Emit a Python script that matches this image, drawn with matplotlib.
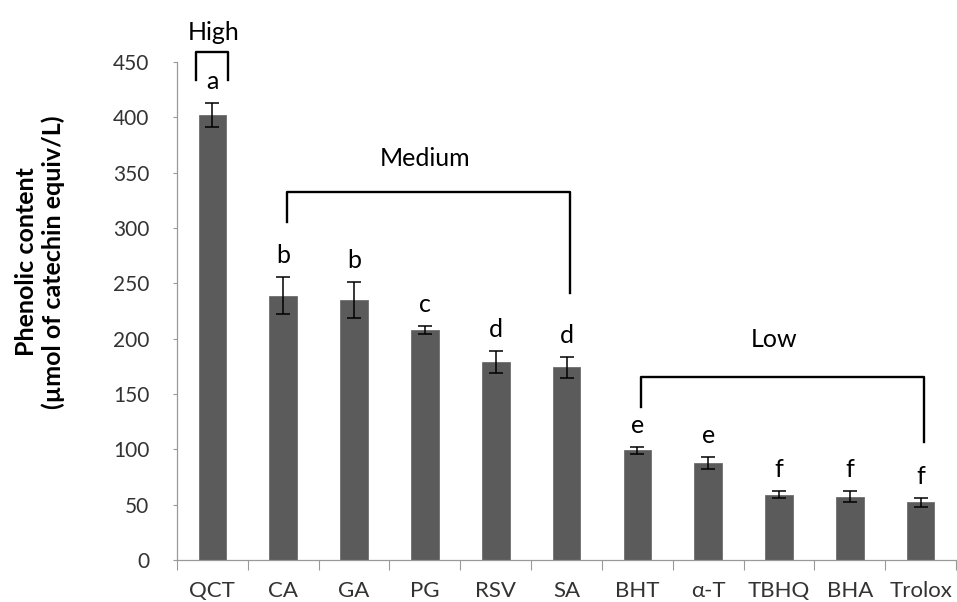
import matplotlib
matplotlib.use("Agg")
import matplotlib.pyplot as plt
import numpy as np

categories = ["QCT", "CA", "GA", "PG", "RSV", "SA", "BHT", "α-T", "TBHQ", "BHA", "Trolox"]
values = [402, 239, 235, 208, 179, 174, 99, 87.5, 59, 57, 52]
errors = [11, 16.5, 16.5, 3.5, 10, 9.5, 3, 5.5, 3, 5, 4]
letters = ["a", "b", "b", "c", "d", "d", "e", "e", "f", "f", "f"]
yticks = [0, 50, 100, 150, 200, 250, 300, 350, 400, 450]

plt.rcParams['font.family'] = ['Lato', 'DejaVu Sans']

fig = plt.figure(figsize=(9.57, 6.02), dpi=100)
ax = fig.add_axes([177/957, 1-560/602, 1-177/957 - 0.001, (560-62)/602])

x = np.arange(len(categories))
ax.bar(x, values, width=0.39, color='#5b5b5b', edgecolor='#6e6e6e', linewidth=0.6, zorder=2)
ax.errorbar(x, values, yerr=errors, fmt='none', ecolor='black', elinewidth=1.1,
            capsize=5, capthick=1.1, zorder=3)

for xi, v, e, l in zip(x, values, errors, letters):
    ax.annotate(l, (xi, v + e), xytext=(0, 10), textcoords='offset points',
                ha='center', va='baseline', fontsize=18)

ax.set_xlim(-0.5, len(categories) - 0.5)
ax.set_ylim(0, 450)
ax.set_yticks(yticks)
ax.set_yticklabels([str(t) for t in yticks], fontsize=15, color='#333333')
ax.set_xticks(x)
ax.set_xticklabels(categories, fontsize=16, color='#333333')
ax.set_xticks(np.arange(-0.5, len(categories), 1.0), minor=True)
ax.tick_params(axis='x', which='major', length=0, pad=15)
ax.tick_params(axis='x', which='minor', length=7, width=0.8, color='#999999', direction='out')
ax.tick_params(axis='y', which='major', length=3, width=0.8, color='#999999', direction='out', pad=17)

for s in ['top', 'right']:
    ax.spines[s].set_visible(False)
for s in ['left', 'bottom']:
    ax.spines[s].set_color('#999999')
    ax.spines[s].set_linewidth(0.9)

lw = 1.7
# High bracket
ax.plot([-0.23, -0.23, 0.22, 0.22], [434, 459, 459, 434], color='black', lw=lw, clip_on=False)
ax.text(0.02, 477, "High", ha='center', va='center', fontsize=18)
# Medium bracket
ax.plot([1.05, 1.05, 5.05, 5.05], [305, 332.5, 332.5, 241], color='black', lw=lw, clip_on=False)
ax.text(3.0, 363, "Medium", ha='center', va='center', fontsize=18)
# Low bracket
ax.plot([6.05, 6.05, 10.05, 10.05], [138, 165, 165, 106.5], color='black', lw=lw, clip_on=False)
ax.text(7.93, 199, "Low", ha='center', va='center', fontsize=18)

fig.text(40/957, 1-262/602, "Phenolic content\n(µmol of catechin equiv/L)", rotation=90,
         ha='center', va='center', fontsize=18, fontweight='bold', linespacing=1.15)

fig.savefig("out.png", dpi=100)
